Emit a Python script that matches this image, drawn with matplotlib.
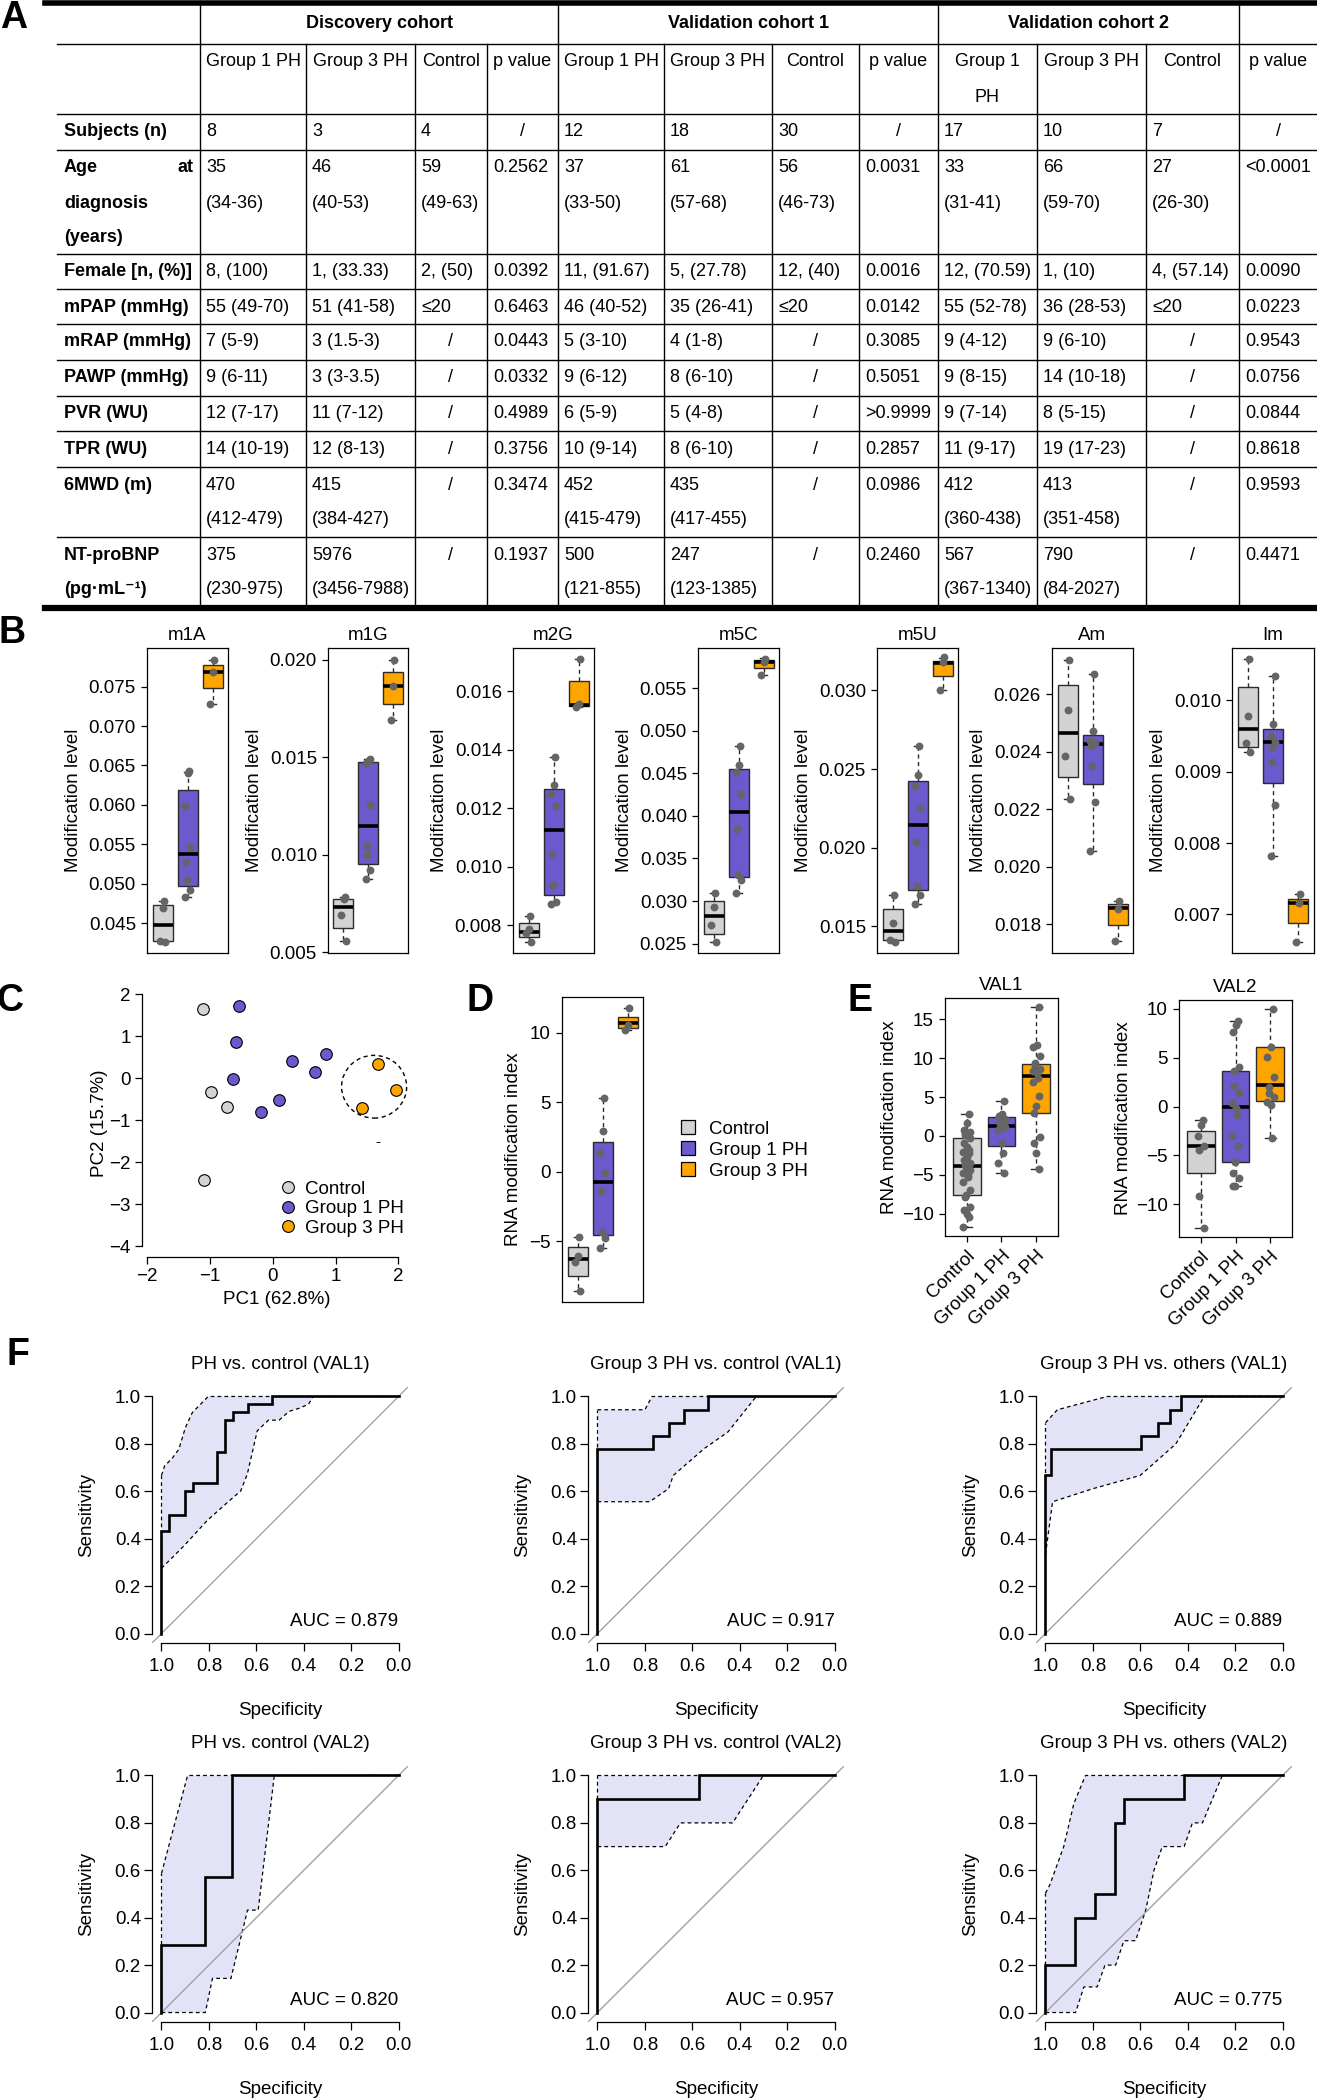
import numpy as np
import matplotlib
matplotlib.use('Agg')
import matplotlib.pyplot as plt
from matplotlib.patches import Patch, Ellipse
from matplotlib.lines import Line2D
from matplotlib.ticker import FormatStrFormatter

plt.rcParams['font.family'] = ['Liberation Sans', 'DejaVu Sans']
plt.rcParams['font.size'] = 13.5
plt.rcParams['axes.linewidth'] = 0.9
plt.rcParams['xtick.major.width'] = 0.9
plt.rcParams['ytick.major.width'] = 0.9
plt.rcParams['xtick.major.size'] = 4
plt.rcParams['ytick.major.size'] = 4
plt.rcParams['axes.unicode_minus'] = True

# ---------------- table (panel A) ----------------
cohorts = ["Discovery cohort", "Validation cohort 1", "Validation cohort 2"]
sub_headers = ["Group 1 PH", "Group 3 PH", "Control", "p value",
               "Group 1 PH", "Group 3 PH", "Control", "p value",
               "Group 1\nPH", "Group 3 PH", "Control", "p value"]
row_labels = ["Subjects (n)", "Age at\ndiagnosis\n(years)", "Female [n, (%)]",
              "mPAP (mmHg)", "mRAP (mmHg)", "PAWP (mmHg)", "PVR (WU)", "TPR (WU)",
              "6MWD (m)", "NT-proBNP\n(pg\u00b7mL\u207b\u00b9)"]

disc_g1 = ["8", "35\n(34-36)", "8, (100)", "55 (49-70)", "7 (5-9)", "9 (6-11)",
           "12 (7-17)", "14 (10-19)", "470\n(412-479)", "375\n(230-975)"]
disc_g3 = ["3", "46\n(40-53)", "1, (33.33)", "51 (41-58)", "3 (1.5-3)", "3 (3-3.5)",
           "11 (7-12)", "12 (8-13)", "415\n(384-427)", "5976\n(3456-7988)"]
disc_ctrl = ["4", "59\n(49-63)", "2, (50)", "\u226420", "/", "/", "/", "/", "/", "/"]
disc_p = ["/", "0.2562", "0.0392", "0.6463", "0.0443", "0.0332", "0.4989", "0.3756",
          "0.3474", "0.1937"]
val1_g1 = ["12", "37\n(33-50)", "11, (91.67)", "46 (40-52)", "5 (3-10)", "9 (6-12)",
           "6 (5-9)", "10 (9-14)", "452\n(415-479)", "500\n(121-855)"]
val1_g3 = ["18", "61\n(57-68)", "5, (27.78)", "35 (26-41)", "4 (1-8)", "8 (6-10)",
           "5 (4-8)", "8 (6-10)", "435\n(417-455)", "247\n(123-1385)"]
val1_ctrl = ["30", "56\n(46-73)", "12, (40)", "\u226420", "/", "/", "/", "/", "/", "/"]
val1_p = ["/", "0.0031", "0.0016", "0.0142", "0.3085", "0.5051", ">0.9999", "0.2857",
          "0.0986", "0.2460"]
val2_g1 = ["17", "33\n(31-41)", "12, (70.59)", "55 (52-78)", "9 (4-12)", "9 (8-15)",
           "9 (7-14)", "11 (9-17)", "412\n(360-438)", "567\n(367-1340)"]
val2_g3 = ["10", "66\n(59-70)", "1, (10)", "36 (28-53)", "9 (6-10)", "14 (10-18)",
           "8 (5-15)", "19 (17-23)", "413\n(351-458)", "790\n(84-2027)"]
val2_ctrl = ["7", "27\n(26-30)", "4, (57.14)", "\u226420", "/", "/", "/", "/", "/", "/"]
val2_p = ["/", "<0.0001", "0.0090", "0.0223", "0.9543", "0.0756", "0.0844", "0.8618",
          "0.9593", "0.4471"]
table_cols = [disc_g1, disc_g3, disc_ctrl, disc_p, val1_g1, val1_g3, val1_ctrl, val1_p,
              val2_g1, val2_g3, val2_ctrl, val2_p]

# ---------------- panel B (box stats: low whisker, q1, median, q3, high whisker) ----------------
groups = ["Control", "Group 1 PH", "Group 3 PH"]
group_colors = ["#D3D3D3", "#6A5ACD", "#FFA500"]

mods = ["m1A", "m1G", "m2G", "m5C", "m5U", "Am", "Im"]
m1A_stats = [(0.0426, 0.0427, 0.0447, 0.0473, 0.0478),
             (0.0483, 0.0497, 0.0537, 0.0619, 0.0642),
             (0.0728, 0.0748, 0.0768, 0.0777, 0.0784)]
m1A_pts = [[0.0478, 0.0469, 0.0427, 0.0426],
           [0.0643, 0.0641, 0.0598, 0.0546, 0.0527, 0.0504, 0.0492, 0.0483],
           [0.0784, 0.0768, 0.0728]]
m1G_stats = [(0.00556, 0.00624, 0.00730, 0.00773, 0.00783),
             (0.00876, 0.00954, 0.01149, 0.01475, 0.01492),
             (0.01689, 0.01774, 0.01863, 0.01935, 0.0200)]
m1G_pts = [[0.00783, 0.00773, 0.00693, 0.00556],
           [0.0149, 0.0148, 0.0147, 0.01257, 0.01043, 0.00997, 0.0092, 0.00876],
           [0.0200, 0.01863, 0.01689]]
m2G_stats = [(0.00743, 0.0076, 0.00778, 0.00806, 0.00833),
             (0.00874, 0.00905, 0.01124, 0.01266, 0.01375),
             (0.01545, 0.01549, 0.01554, 0.01634, 0.01711)]
m2G_pts = [[0.00833, 0.00787, 0.00774, 0.00743],
           [0.01375, 0.01281, 0.01249, 0.01207, 0.01042, 0.00936, 0.00879, 0.00874],
           [0.01711, 0.01556, 0.01545]]
m5C_stats = [(0.0252, 0.02617, 0.02821, 0.03002, 0.0309),
             (0.0309, 0.03284, 0.04049, 0.04551, 0.0482),
             (0.0565, 0.05735, 0.05802, 0.05833, 0.0585)]
m5C_pts = [[0.0309, 0.0293, 0.0272, 0.0252],
           [0.0482, 0.0460, 0.0451, 0.0426, 0.0384, 0.0330, 0.0325, 0.0309],
           [0.0584, 0.0581, 0.0565]]
m5U_stats = [(0.01405, 0.01411, 0.01468, 0.0161, 0.01702),
             (0.01642, 0.01729, 0.02141, 0.02427, 0.02646),
             (0.0300, 0.03091, 0.03176, 0.03187, 0.03206)]
m5U_pts = [[0.0170, 0.01521, 0.0141, 0.0140],
           [0.02646, 0.02465, 0.02391, 0.02253, 0.02035, 0.01759, 0.01702, 0.01642],
           [0.0321, 0.0318, 0.0300]]
Am_stats = [(0.02236, 0.02311, 0.02465, 0.02631, 0.02719),
            (0.02054, 0.02288, 0.02427, 0.02456, 0.02669),
            (0.0174, 0.01798, 0.01855, 0.01869, 0.01881)]
Am_pts = [[0.0272, 0.02545, 0.02386, 0.02236],
          [0.0267, 0.02473, 0.02438, 0.0243, 0.02421, 0.0235, 0.02225, 0.02054],
          [0.0188, 0.01852, 0.0174]]
Im_stats = [(0.00928, 0.00934, 0.0096, 0.01018, 0.01058),
            (0.00782, 0.00884, 0.00942, 0.0096, 0.01034),
            (0.00662, 0.00688, 0.00716, 0.00722, 0.00729)]
Im_pts = [[0.01058, 0.00978, 0.0094, 0.00928],
          [0.01034, 0.00967, 0.0095, 0.00942, 0.00935, 0.00914, 0.00853, 0.00782],
          [0.00729, 0.00716, 0.00662]]
mod_stats = [m1A_stats, m1G_stats, m2G_stats, m5C_stats, m5U_stats, Am_stats, Im_stats]
mod_pts = [m1A_pts, m1G_pts, m2G_pts, m5C_pts, m5U_pts, Am_pts, Im_pts]
mod_ylims = [(0.0412, 0.0799), (0.00496, 0.0206), (0.00705, 0.01748), (0.0239, 0.0597),
             (0.0133, 0.0327), (0.0170, 0.0276), (0.00646, 0.01073)]
mod_yticks = [np.arange(0.045, 0.0751, 0.005), [0.005, 0.010, 0.015, 0.020],
              np.arange(0.008, 0.0161, 0.002), np.arange(0.025, 0.0551, 0.005),
              [0.015, 0.020, 0.025, 0.030], np.arange(0.018, 0.0261, 0.002),
              [0.007, 0.008, 0.009, 0.010]]

# ---------------- panel C (PCA) ----------------
pc_ctrl_x = [-1.114, -0.987, -0.732, -1.098]
pc_ctrl_y = [1.642, -0.331, -0.689, -2.415]
pc_g1_x = [-0.541, -0.589, -0.631, 0.302, 0.849, 0.668, 0.106, -0.186]
pc_g1_y = [1.722, 0.870, -0.013, 0.409, 0.584, 0.138, -0.514, -0.808]
pc_g3_x = [1.671, 1.968, 1.427]
pc_g3_y = [0.329, -0.283, -0.713]

# ---------------- panel D ----------------
d_stats = [(-8.55, -7.47, -6.27, -5.41, -4.69),
           (-5.48, -4.54, -0.75, 2.13, 5.32),
           (10.24, 10.36, 10.72, 11.13, 11.80)]
d_pts = [[-4.69, -6.03, -6.49, -8.55],
         [5.32, 2.92, 1.36, -0.08, -1.40, -4.35, -4.76, -5.48],
         [11.8, 10.6, 10.24]]

# ---------------- panel E ----------------
val1_stats = [(-11.63, -7.56, -3.79, -0.20, 2.80),
              (-4.78, -1.23, 1.34, 2.41, 4.43),
              (-4.22, 2.93, 7.72, 9.26, 16.50)]
val1_pts = [[2.80, 1.64, 0.79, 0.57, 0.36, 0.14, -0.28, -0.84, -1.35, -1.78, -2.0, -2.21,
             -2.64, -3.07, -3.41, -3.71, -4.01, -4.35, -4.78, -5.0, -5.21, -5.85, -6.92,
             -7.56, -7.78, -9.06, -9.49, -10.0, -10.35, -11.63],
            [4.43, 2.84, 2.50, 2.16, 1.86, 1.51, 1.21, 0.79, -0.84, -2.12, -3.49, -4.78],
            [16.5, 11.7, 11.4, 10.29, 9.35, 9.01, 8.58, 8.28, 8.06, 7.42, 6.87, 5.07, 3.87,
             3.01, -0.07, -0.84, -2.12, -4.22]]
val2_stats = [(-12.46, -6.83, -4.10, -2.49, -1.37),
              (-8.19, -5.70, -0.07, 3.65, 8.81),
              (-3.24, 0.61, 2.22, 6.08, 10.0)]
val2_pts = [[-1.37, -1.88, -3.07, -4.03, -4.50, -9.22, -12.46],
            [8.81, 8.36, 7.68, 4.10, 3.69, 2.12, 1.43, 0.34, -0.17, -0.85, -3.07, -4.03,
             -5.73, -6.83, -7.34, -8.12, -8.19],
            [10.0, 6.08, 5.05, 3.0, 2.0, 1.43, 1.02, 0.51, 0.17, -3.24]]

# ---------------- panel F (ROC: specificity, sensitivity) ----------------
roc_titles = ["PH vs. control (VAL1)", "Group 3 PH vs. control (VAL1)",
              "Group 3 PH vs. others (VAL1)", "PH vs. control (VAL2)",
              "Group 3 PH vs. control (VAL2)", "Group 3 PH vs. others (VAL2)"]
roc_auc = ["0.879", "0.917", "0.889", "0.820", "0.957", "0.775"]

f1_spec = [1, 1, 0.967, 0.967, 0.9, 0.9, 0.867, 0.867, 0.767, 0.767, 0.733, 0.733, 0.7,
           0.7, 0.633, 0.633, 0.533, 0.533, 0]
f1_sens = [0, 0.433, 0.433, 0.5, 0.5, 0.6, 0.6, 0.633, 0.633, 0.767, 0.767, 0.9, 0.9,
           0.933, 0.933, 0.967, 0.967, 1, 1]
f1_up = ([1.0, 0.987, 0.955, 0.927, 0.899, 0.870, 0.803, 0.0],
         [0.667, 0.707, 0.739, 0.777, 0.869, 0.932, 1.0, 1.0])
f1_lo = ([1.0, 0.906, 0.807, 0.715, 0.666, 0.638, 0.596, 0.549, 0.504, 0.462, 0.42, 0.38,
          0.36, 0.0],
         [0.275, 0.369, 0.477, 0.559, 0.601, 0.672, 0.855, 0.9, 0.9, 0.937, 0.95, 0.967,
          1.0, 1.0])

f2_spec = [1, 1, 0.767, 0.767, 0.7, 0.7, 0.633, 0.633, 0.533, 0.533, 0]
f2_sens = [0, 0.778, 0.778, 0.833, 0.833, 0.889, 0.889, 0.944, 0.944, 1, 1]
f2_up = ([1.0, 0.8, 0.77, 0.0], [0.944, 0.944, 1.0, 1.0])
f2_lo = ([1.0, 0.78, 0.7, 0.68, 0.55, 0.45, 0.33, 0.0],
         [0.556, 0.556, 0.611, 0.667, 0.78, 0.85, 1.0, 1.0])

f3_spec = [1, 1, 0.976, 0.976, 0.595, 0.595, 0.524, 0.524, 0.476, 0.476, 0.429, 0.429, 0]
f3_sens = [0, 0.667, 0.667, 0.778, 0.778, 0.833, 0.833, 0.889, 0.889, 0.944, 0.944, 1, 1]
f3_up = ([1.0, 0.95, 0.74, 0.0], [0.889, 0.944, 1.0, 1.0])
f3_lo = ([1.0, 0.97, 0.8, 0.6, 0.45, 0.33, 0.0],
         [0.333, 0.556, 0.611, 0.667, 0.8, 1.0, 1.0])

f4_spec = [1, 1, 0.815, 0.815, 0.704, 0.704, 0]
f4_sens = [0, 0.286, 0.286, 0.571, 0.571, 1, 1]
f4_up = ([1.0, 0.89, 0.0], [0.587, 1.0, 1.0])
f4_lo = ([1.0, 0.815, 0.785, 0.707, 0.637, 0.592, 0.524, 0.0],
         [0.0, 0.0, 0.144, 0.144, 0.432, 0.432, 1.0, 1.0])

f5_spec = [1, 1, 0.571, 0.571, 0]
f5_sens = [0, 0.9, 0.9, 1, 1]
f5_up = ([1.0, 0.0], [1.0, 1.0])
f5_lo = ([1.0, 0.714, 0.65, 0.43, 0.3, 0.0], [0.7, 0.7, 0.8, 0.8, 1.0, 1.0])

f6_spec = [1, 1, 0.875, 0.875, 0.792, 0.792, 0.708, 0.708, 0.667, 0.667, 0.417, 0.417, 0]
f6_sens = [0, 0.2, 0.2, 0.4, 0.4, 0.5, 0.5, 0.8, 0.8, 0.9, 0.9, 1, 1]
f6_up = ([1.0, 0.982, 0.923, 0.880, 0.831, 0.0], [0.503, 0.538, 0.70, 0.883, 1.0, 1.0])
f6_lo = ([1.0, 0.873, 0.838, 0.782, 0.749, 0.704, 0.669, 0.620, 0.577, 0.542, 0.507,
          0.415, 0.380, 0.338, 0.254, 0.0],
         [0.0, 0.0, 0.108, 0.108, 0.2, 0.2, 0.303, 0.303, 0.432, 0.601, 0.70, 0.70, 0.80,
          0.80, 1.0, 1.0])

roc_curves = [(f1_spec, f1_sens), (f2_spec, f2_sens), (f3_spec, f3_sens),
              (f4_spec, f4_sens), (f5_spec, f5_sens), (f6_spec, f6_sens)]
roc_up = [f1_up, f2_up, f3_up, f4_up, f5_up, f6_up]
roc_lo = [f1_lo, f2_lo, f3_lo, f4_lo, f5_lo, f6_lo]

# ======================================================================
W, H = 1317, 2100
fig = plt.figure(figsize=(W / 100, H / 100), dpi=100)


def px_axes(x0, y0, x1, y1):
    return fig.add_axes([x0 / W, 1 - y1 / H, (x1 - x0) / W, (y1 - y0) / H])


# overlay in pixel coordinates for table + panel letters
ov = fig.add_axes([0, 0, 1, 1])
ov.set_xlim(0, W)
ov.set_ylim(H, 0)
ov.axis('off')

col_x = [57, 200, 306, 415, 487, 558, 664, 772, 859, 938, 1037, 1146, 1239, 1317]
row_y = [3, 44, 114, 150, 254, 289, 324, 360, 396, 431, 467, 537, 608]
tfs = 13

for y in row_y[1:-1]:
    ov.plot([57, 1317], [y, y], color='black', lw=1.0)
ov.plot([45, 1317], [row_y[0], row_y[0]], color='black', lw=4)
ov.plot([45, 1317], [row_y[-1], row_y[-1]], color='black', lw=4.5)
for x in [200, 558, 938, 1239]:
    ov.plot([x, x], [row_y[0] + 2, row_y[-1] - 2], color='black', lw=1.0)
for x in [306, 415, 487, 664, 772, 859, 1037, 1146]:
    ov.plot([x, x], [row_y[1], row_y[-1] - 2], color='black', lw=1.0)

spans = [(200, 558), (558, 938), (938, 1239)]
for name, (a, b) in zip(cohorts, spans):
    ov.text((a + b) / 2, 24, name, ha='center', va='center', fontsize=tfs, fontweight='bold')

for j, h in enumerate(sub_headers):
    cx = (col_x[j + 1] + col_x[j + 2]) / 2
    for k, line in enumerate(h.split('\n')):
        ov.text(cx, row_y[1] + 18 + 35 * k, line, ha='center', va='center', fontsize=tfs)

for i, lab in enumerate(row_labels):
    top = row_y[i + 2]
    lines = lab.split('\n')
    for k, line in enumerate(lines):
        if line == "Age at":
            ov.text(64, top + 18, "Age", ha='left', va='center', fontsize=tfs, fontweight='bold')
            ov.text(194, top + 18, "at", ha='right', va='center', fontsize=tfs, fontweight='bold')
        else:
            ov.text(64, top + 18 + 35 * k, line, ha='left', va='center', fontsize=tfs,
                    fontweight='bold')

for j, col in enumerate(table_cols):
    left, right = col_x[j + 1], col_x[j + 2]
    for i, val in enumerate(col):
        top = row_y[i + 2]
        for k, line in enumerate(val.split('\n')):
            if line == "/":
                ov.text((left + right) / 2, top + 18 + 35 * k, line, ha='center', va='center',
                        fontsize=tfs)
            else:
                ov.text(left + 6, top + 18 + 35 * k, line, ha='left', va='center', fontsize=tfs)

# panel letters
letter_font = ['Liberation Sans Narrow', 'Liberation Sans', 'DejaVu Sans']
for letter, (lx, ly) in zip("ABCDEF", [(14, 18), (12, 633), (10, 1001), (480, 1001),
                                       (860, 1001), (18, 1355)]):
    ov.text(lx, ly, letter, ha='center', va='center', fontsize=27, fontweight='bold',
            family=letter_font)


def jitter(n):
    return 0.1 * np.sin(np.arange(n) * 2.3 + 0.7)


def box_panel(ax, stats, pts, ylim, yticks=None, fmt=None):
    bstats = [dict(whislo=s[0], q1=s[1], med=s[2], q3=s[3], whishi=s[4], fliers=[])
              for s in stats]
    res = ax.bxp(bstats, positions=[1, 2, 3], widths=0.8, patch_artist=True,
                 showfliers=False, capwidths=0.3,
                 boxprops=dict(edgecolor='#2b2b2b', linewidth=1.0),
                 medianprops=dict(color='black', linewidth=2.6),
                 whiskerprops=dict(color='#2b2b2b', linestyle=(0, (3, 2.5)), linewidth=1.0),
                 capprops=dict(color='#2b2b2b', linewidth=1.0))
    for patch, c in zip(res['boxes'], group_colors):
        patch.set_facecolor(c)
    for i, p in enumerate(pts):
        p = np.asarray(p)
        ax.scatter(i + 1 + jitter(len(p)), p, s=32, color='#656565', zorder=4, linewidths=0)
    ax.set_xlim(0.38, 3.62)
    ax.set_ylim(ylim)
    if yticks is not None:
        ax.set_yticks(yticks)
    if fmt is not None:
        ax.yaxis.set_major_formatter(FormatStrFormatter(fmt))
    ax.tick_params(axis='y', length=4, pad=4)


# ---------------- panel B ----------------
b_x = [(147, 228), (328, 408), (513, 594), (698, 779), (877, 958), (1052, 1133), (1232, 1314)]
for k in range(7):
    ax = px_axes(b_x[k][0], 648, b_x[k][1], 953)
    box_panel(ax, mod_stats[k], mod_pts[k], mod_ylims[k], mod_yticks[k], '%.3f')
    ax.set_xticks([])
    ax.set_title(mods[k], fontsize=13.5, pad=6)
    ax.set_ylabel("Modification level", labelpad=5)

# ---------------- panel C ----------------
axc = px_axes(142, 990, 411, 1257)
axc.scatter(pc_ctrl_x, pc_ctrl_y, s=70, facecolor=group_colors[0], edgecolor='black',
            linewidths=0.8, zorder=3)
axc.scatter(pc_g1_x, pc_g1_y, s=70, facecolor=group_colors[1], edgecolor='black',
            linewidths=0.8, zorder=3)
axc.scatter(pc_g3_x, pc_g3_y, s=70, facecolor=group_colors[2], edgecolor='black',
            linewidths=0.8, zorder=3)
axc.add_patch(Ellipse((1.613, -0.204), 1.035, 1.495, fill=False, ls=(0, (3, 2.5)), lw=1.0))
axc.text(1.671, -1.516, "-", ha='center', va='center', fontsize=11)
axc.set_xlim(-2.08, 2.2)
axc.set_ylim(-4.26, 2.1)
axc.set_xticks([-2, -1, 0, 1, 2])
axc.set_yticks([-4, -3, -2, -1, 0, 1, 2])
for s in ['top', 'right']:
    axc.spines[s].set_visible(False)
axc.spines['left'].set_bounds(-4, 2)
axc.spines['bottom'].set_bounds(-2, 2)
axc.tick_params(length=5, pad=3)
axc.set_xlabel("PC1 (62.8%)", labelpad=4)
axc.set_ylabel("PC2 (15.7%)", labelpad=1)
c_handles = [Line2D([], [], marker='o', ls='', markersize=8.5, markerfacecolor=c,
                    markeredgecolor='black', markeredgewidth=0.8) for c in group_colors]
axc.legend(c_handles, groups, loc='upper left', bbox_to_anchor=(0.5, 0.285), frameon=False,
           handletextpad=0.3, labelspacing=0.12, borderpad=0, borderaxespad=0,
           handlelength=1.2, fontsize=13.5)

# ---------------- panel D ----------------
axd = px_axes(562, 997, 643, 1302)
box_panel(axd, d_stats, d_pts, (-9.37, 12.59), [-5, 0, 5, 10])
axd.set_xticks([])
axd.set_ylabel("RNA modification index", labelpad=5)
d_handles = [Patch(facecolor=c, edgecolor='black', linewidth=0.9) for c in group_colors]
axd.legend(d_handles, groups, loc='center left', bbox_to_anchor=(672 / W, 1 - 1150 / H),
           bbox_transform=fig.transFigure, frameon=False, handlelength=0.75,
           handleheight=0.75, handletextpad=0.7, labelspacing=0.2, borderpad=0,
           fontsize=13.5)

# ---------------- panel E ----------------
e_boxes = [(945, 998, 1058, 1236), (1179, 1000, 1292, 1237)]
e_stats = [val1_stats, val2_stats]
e_pts = [val1_pts, val2_pts]
e_ylims = [(-12.83, 17.70), (-13.38, 10.92)]
e_ticks = [[-10, -5, 0, 5, 10, 15], [-10, -5, 0, 5, 10]]
for k, title in enumerate(["VAL1", "VAL2"]):
    ax = px_axes(*e_boxes[k])
    box_panel(ax, e_stats[k], e_pts[k], e_ylims[k], e_ticks[k])
    ax.set_xticks([1, 2, 3])
    ax.set_xticklabels(groups, rotation=45, ha='right', rotation_mode='anchor')
    ax.tick_params(axis='x', length=4, pad=4)
    ax.set_title(title, fontsize=13.5, pad=6)
    ax.set_ylabel("RNA modification index", labelpad=3)

# ---------------- panel F ----------------
f_cols = [152, 588, 1036]
f_rows = [1387, 1766]
for k in range(6):
    x0 = f_cols[k % 3]
    y0 = f_rows[k // 3]
    ax = px_axes(x0, y0, x0 + 256, y0 + 256)
    up_s, up_v = roc_up[k]
    lo_s, lo_v = roc_lo[k]
    ax.fill(list(up_s) + list(lo_s)[::-1], list(up_v) + list(lo_v)[::-1],
            color='#E3E3F8', lw=0, zorder=1)
    ax.plot(up_s, up_v, color='black', lw=0.9, ls=(0, (3, 2.5)), zorder=2)
    ax.plot(lo_s, lo_v, color='black', lw=0.9, ls=(0, (3, 2.5)), zorder=2)
    ax.plot([1, 1], [lo_v[0], up_v[0]], color='black', lw=0.9, ls=(0, (3, 2.5)), zorder=2)
    ax.axline((1, 0), (0, 1), color='#999999', lw=0.9, zorder=2)
    spec, sens = roc_curves[k]
    ax.plot(spec, sens, color='black', lw=1.9, zorder=3, solid_joinstyle='miter')
    ax.set_xlim(1.04, -0.04)
    ax.set_ylim(-0.04, 1.04)
    ticks = [0.0, 0.2, 0.4, 0.6, 0.8, 1.0]
    ax.set_xticks(ticks)
    ax.set_yticks(ticks)
    ax.xaxis.set_major_formatter(FormatStrFormatter('%.1f'))
    ax.yaxis.set_major_formatter(FormatStrFormatter('%.1f'))
    for s in ['top', 'right']:
        ax.spines[s].set_visible(False)
    ax.spines['left'].set_bounds(0, 1)
    ax.spines['bottom'].set_bounds(0, 1)
    ax.tick_params(axis='y', length=6, pad=2)
    ax.tick_params(axis='x', length=6, pad=5)
    ax.set_xlabel("Specificity", labelpad=19)
    ax.set_ylabel("Sensitivity", labelpad=14)
    ax.set_title(roc_titles[k], fontsize=13.5, pad=13)
    ax.text(0.0, 0.05, "AUC = " + roc_auc[k], ha='right', va='center', fontsize=13.5)

fig.savefig("out.png", dpi=100)
